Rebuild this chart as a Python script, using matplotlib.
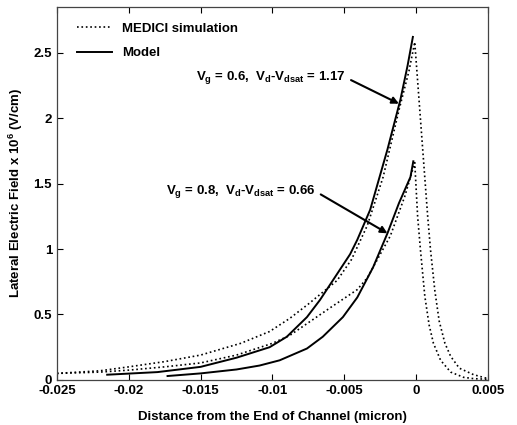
import matplotlib
matplotlib.use("Agg")
import matplotlib.pyplot as plt

plt.rcParams['font.family'] = ['Liberation Sans', 'DejaVu Sans']
plt.rcParams['font.weight'] = 'bold'
plt.rcParams['mathtext.fontset'] = 'custom'
plt.rcParams['mathtext.bf'] = 'Liberation Sans:bold'
plt.rcParams['mathtext.rm'] = 'Liberation Sans:bold'
plt.rcParams['mathtext.default'] = 'bf'

# model curves (solid)
model_06_x = [-0.0215, -0.018, -0.015, -0.0125, -0.0102, -0.009, -0.0076, -0.0067, -0.0058,
              -0.0046, -0.0041, -0.0032, -0.002, -0.0011, -0.0006, -0.00023]
model_06_y = [0.04, 0.06, 0.10, 0.17, 0.25, 0.33, 0.48, 0.61, 0.76,
              0.96, 1.07, 1.30, 1.76, 2.14, 2.40, 2.62]

model_08_x = [-0.0173, -0.015, -0.0125, -0.0109, -0.0095, -0.0076, -0.0065, -0.0051,
              -0.0041, -0.003, -0.002, -0.0012, -0.0004, -0.0002]
model_08_y = [0.03, 0.05, 0.08, 0.11, 0.15, 0.24, 0.33, 0.48,
              0.63, 0.86, 1.12, 1.35, 1.55, 1.67]

# MEDICI simulation curves (dotted)
sim_06_x = [-0.025, -0.022, -0.02, -0.0175, -0.015, -0.0122, -0.0102, -0.0088, -0.0075,
            -0.0065, -0.0055, -0.0045, -0.0034, -0.0023, -0.0012, -0.0005, -0.0001,
            0.0004, 0.0008, 0.001, 0.0013, 0.0016, 0.002, 0.0024, 0.003, 0.004, 0.005]
sim_06_y = [0.05, 0.07, 0.10, 0.14, 0.19, 0.28, 0.37, 0.47, 0.58,
            0.67, 0.76, 0.92, 1.18, 1.55, 2.06, 2.36, 2.58,
            1.84, 1.25, 0.99, 0.68, 0.45, 0.28, 0.18, 0.09, 0.04, 0.01]

sim_08_x = [-0.025, -0.022, -0.02, -0.0175, -0.015, -0.0125, -0.01, -0.0088, -0.0076,
            -0.006, -0.0041, -0.0034, -0.0018, -0.0008, -0.0001,
            0.0001, 0.0003, 0.0006, 0.0009, 0.0012, 0.0017, 0.0024, 0.0033, 0.004, 0.005]
sim_08_y = [0.05, 0.06, 0.075, 0.10, 0.13, 0.19, 0.28, 0.34, 0.43,
            0.55, 0.69, 0.78, 1.10, 1.40, 1.66,
            1.25, 0.99, 0.64, 0.42, 0.28, 0.15, 0.06, 0.02, 0.01, 0.005]

fig = plt.figure(figsize=(5.17, 4.25), dpi=100)
ax = fig.add_axes([0.110, 0.106, 0.834, 0.878])

ax.plot(sim_06_x, sim_06_y, color='black', linestyle=':', linewidth=1.2, label='MEDICI simulation')
ax.plot(model_06_x, model_06_y, color='black', linestyle='-', linewidth=1.4, label='Model')
ax.plot(sim_08_x, sim_08_y, color='black', linestyle=':', linewidth=1.2)
ax.plot(model_08_x, model_08_y, color='black', linestyle='-', linewidth=1.4)

ax.set_xlim(-0.025, 0.005)
ax.set_ylim(0, 2.85)
ax.set_xticks([-0.025, -0.02, -0.015, -0.01, -0.005, 0, 0.005])
ax.set_xticklabels(['-0.025', '-0.02', '-0.015', '-0.01', '-0.005', '0', '0.005'])
ax.set_yticks([0, 0.5, 1, 1.5, 2, 2.5])
ax.set_yticklabels(['0', '0.5', '1', '1.5', '2', '2.5'])
ax.tick_params(direction='in', top=True, right=True, labelsize=9.5, length=4, width=0.8)
for s in ax.spines.values():
    s.set_linewidth(0.9)
    s.set_color('#444444')

ax.set_xlabel('Distance from the End of Channel (micron)', fontsize=9.5, fontweight='bold', labelpad=10)
ax.set_ylabel(r'Lateral Electric Field x 10$^6$ (V/cm)', fontsize=9.5, fontweight='bold', labelpad=6)

ax.legend(loc='upper left', bbox_to_anchor=(0.02, 0.99), frameon=False, fontsize=9.5,
          handlelength=2.65, labelspacing=0.95, handletextpad=0.75)

ax.annotate(r'V$_g$ = 0.6,  V$_d$-V$_{dsat}$ = 1.17', xy=(-0.0012, 2.11), xytext=(-0.0049, 2.31),
            ha='right', va='center', fontsize=9.5,
            arrowprops=dict(arrowstyle='-|>', color='black', lw=1.5, shrinkA=2, shrinkB=0,
                            relpos=(1, 0.5), mutation_scale=10))
ax.annotate(r'V$_g$ = 0.8,  V$_d$-V$_{dsat}$ = 0.66', xy=(-0.002, 1.12), xytext=(-0.0070, 1.44),
            ha='right', va='center', fontsize=9.5,
            arrowprops=dict(arrowstyle='-|>', color='black', lw=1.5, shrinkA=2, shrinkB=0,
                            relpos=(1, 0.5), mutation_scale=10))

fig.savefig('out.png', dpi=100)
